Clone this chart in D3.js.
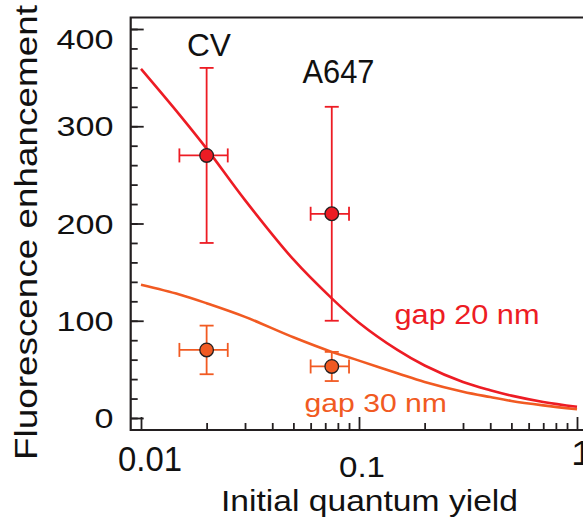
<!DOCTYPE html>
<html>
<head>
<meta charset="utf-8">
<script src="https://cdn.jsdelivr.net/npm/d3@7"></script>
<style>
  html, body { margin: 0; padding: 0; background: #fff; }
  svg { display: block; }
  text { font-family: "Liberation Sans", Arial, Helvetica, sans-serif; }
</style>
</head>
<body>
<svg id="chart" width="583" height="520"></svg>
<script>
// ---------- data ----------
const dyeNames = ["CV", "A647"];
const dyeQY = [0.02, 0.075];
const dyeQYLow = [0.015, 0.06];
const dyeQYHigh = [0.025, 0.09];

const gap20Values = [270, 210];
const gap20Low = [180, 100];
const gap20High = [360, 320];

const gap30Values = [70, 53];
const gap30Low = [45, 38];
const gap30High = [95, 68];

const curveQY   = [0.01, 0.015, 0.02, 0.03, 0.05, 0.075, 0.1, 0.15, 0.2, 0.3, 0.4, 0.5, 0.7, 1];
const curveGap20 = [359, 312, 277, 224, 163, 123, 98, 70, 54, 37, 28.5, 23, 16.5, 11.6];
const curveGap30 = [137, 127, 118, 104, 83, 68, 59, 46, 37, 27, 21.5, 17.5, 13, 9];

const yTickValues = [0, 100, 200, 300, 400];
const yMinorValues = d3.range(0, 401, 20);
const xTickValues = [0.01, 0.1, 1];
const xTickLabels = ["0.01", "0.1", "1"];
const xMinorValues = [0.02,0.03,0.04,0.05,0.06,0.07,0.08,0.09,0.2,0.3,0.4,0.5,0.6,0.7,0.8,0.9];

const seriesNames = ["gap 20 nm", "gap 30 nm"];
const xTitle = "Initial quantum yield";
const yTitle = "Fluorescence enhancement";

// ---------- layout ----------
const RED = "#ed1c24", ORANGE = "#f15a22", AXIS = "#231f20";
const frameLeft = 130.7, frameTop = 17.5, frameBottom = 430, frameRight = 590;

const svg = d3.select("#chart");
const x = d3.scaleLog().domain([0.01, 1]).range([141, 577]);
const y = d3.scaleLinear().domain([0, 400]).range([418, 29]);

// ---------- curves ----------
const line = d3.line().x(d => x(d[0])).y(d => y(d[1])).curve(d3.curveCatmullRom.alpha(0.5));
svg.append("path").datum(curveQY.map((q, i) => [q, curveGap30[i]]))
  .attr("d", line).attr("fill", "none").attr("stroke", ORANGE).attr("stroke-width", 2.6);
svg.append("path").datum(curveQY.map((q, i) => [q, curveGap20[i]]))
  .attr("d", line).attr("fill", "none").attr("stroke", RED).attr("stroke-width", 2.6);

// ---------- error bars & points ----------
function drawSeries(vals, lo, hi, color) {
  const g = svg.append("g");
  const cap = 7;
  dyeQY.forEach((q, i) => {
    const cx = x(q), cy = y(vals[i]);
    const ew = 1.8;
    g.append("line").attr("x1", cx).attr("x2", cx).attr("y1", y(lo[i])).attr("y2", y(hi[i]))
      .attr("stroke", color).attr("stroke-width", ew);
    g.append("line").attr("x1", cx - cap).attr("x2", cx + cap).attr("y1", y(lo[i])).attr("y2", y(lo[i]))
      .attr("stroke", color).attr("stroke-width", ew);
    g.append("line").attr("x1", cx - cap).attr("x2", cx + cap).attr("y1", y(hi[i])).attr("y2", y(hi[i]))
      .attr("stroke", color).attr("stroke-width", ew);
    const xl = x(dyeQYLow[i]), xh = x(dyeQYHigh[i]);
    g.append("line").attr("x1", xl).attr("x2", xh).attr("y1", cy).attr("y2", cy)
      .attr("stroke", color).attr("stroke-width", ew);
    g.append("line").attr("x1", xl).attr("x2", xl).attr("y1", cy - cap).attr("y2", cy + cap)
      .attr("stroke", color).attr("stroke-width", ew);
    g.append("line").attr("x1", xh).attr("x2", xh).attr("y1", cy - cap).attr("y2", cy + cap)
      .attr("stroke", color).attr("stroke-width", ew);
  });
  dyeQY.forEach((q, i) => {
    g.append("circle").attr("cx", x(q)).attr("cy", y(vals[i])).attr("r", 6.8)
      .attr("fill", color).attr("stroke", AXIS).attr("stroke-width", 1.3);
  });
}
drawSeries(gap20Values, gap20Low, gap20High, RED);
drawSeries(gap30Values, gap30Low, gap30High, ORANGE);

// ---------- axes ----------
const yAxisMajor = d3.axisLeft(y).tickValues(yTickValues).tickSizeInner(-13).tickSizeOuter(0).tickFormat("");
const yAxisMinor = d3.axisLeft(y).tickValues(yMinorValues).tickSizeInner(-7).tickSizeOuter(0).tickFormat("");
const xAxisMajor = d3.axisBottom(x).tickValues(xTickValues).tickSizeInner(-13).tickSizeOuter(0).tickFormat("");
const xAxisMinor = d3.axisBottom(x).tickValues(xMinorValues).tickSizeInner(-7).tickSizeOuter(0).tickFormat("");

[yAxisMinor, yAxisMajor].forEach(ax => {
  const g = svg.append("g").attr("transform", `translate(${frameLeft},0)`).call(ax);
  g.select(".domain").remove();
  g.selectAll(".tick line").attr("stroke", AXIS).attr("stroke-width", 1.8);
});
[xAxisMinor, xAxisMajor].forEach(ax => {
  const g = svg.append("g").attr("transform", `translate(0,${frameBottom})`).call(ax);
  g.select(".domain").remove();
  g.selectAll(".tick line").attr("stroke", AXIS).attr("stroke-width", 1.8);
});

svg.append("path")
  .attr("d", `M${frameRight},${frameTop}H${frameLeft}V${frameBottom}H${frameRight}`)
  .attr("fill", "none").attr("stroke", AXIS).attr("stroke-width", 2.2);

// ---------- tick labels ----------
const digitW = 19;
yTickValues.forEach(v => {
  const s = String(v);
  const off = v === 400 ? 20 : 10;
  svg.append("text").attr("x", 113.5).attr("y", y(v) + off)
    .attr("text-anchor", "end").attr("font-size", 27).attr("fill", "#111")
    .attr("textLength", s.length * digitW).attr("lengthAdjust", "spacingAndGlyphs")
    .text(s);
});
const xLabelSpecs = [
  {dx: 9, base: 470.7, fs: 35, w: 64, anchor: "middle"},
  {dx: 3, base: 476.7, fs: 30, w: 46, anchor: "middle"},
  {dx: -6, base: 465, fs: 35, w: 22, anchor: "start"}
];
xTickValues.forEach((v, i) => {
  const sp = xLabelSpecs[i];
  svg.append("text").attr("x", x(v) + sp.dx).attr("y", sp.base)
    .attr("text-anchor", sp.anchor).attr("font-size", sp.fs).attr("fill", "#111")
    .attr("textLength", sp.w).attr("lengthAdjust", "spacingAndGlyphs")
    .text(xTickLabels[i]);
});

// ---------- titles ----------
svg.append("text").attr("x", 221).attr("y", 510.7).attr("font-size", 29).attr("fill", "#111")
  .attr("textLength", 297).attr("lengthAdjust", "spacingAndGlyphs").text(xTitle);
svg.append("text").attr("transform", "translate(36.5,232.5) rotate(-90)")
  .attr("text-anchor", "middle").attr("font-size", 31).attr("fill", "#111")
  .attr("textLength", 455).attr("lengthAdjust", "spacingAndGlyphs").text(yTitle);

// ---------- annotations ----------
svg.append("text").attr("x", 187).attr("y", 55.7).attr("font-size", 31).attr("fill", "#111")
  .attr("textLength", 44).attr("lengthAdjust", "spacingAndGlyphs").text(dyeNames[0]);
svg.append("text").attr("x", 302.5).attr("y", 82.7).attr("font-size", 32.5).attr("fill", "#111")
  .attr("textLength", 72).attr("lengthAdjust", "spacingAndGlyphs").text(dyeNames[1]);
svg.append("text").attr("x", 394.5).attr("y", 324.3).attr("font-size", 27).attr("fill", RED)
  .attr("textLength", 145).attr("lengthAdjust", "spacingAndGlyphs").text(seriesNames[0]);
svg.append("text").attr("x", 304.5).attr("y", 411.7).attr("font-size", 26.5).attr("fill", ORANGE)
  .attr("textLength", 142.5).attr("lengthAdjust", "spacingAndGlyphs").text(seriesNames[1]);
</script>
</body>
</html>
